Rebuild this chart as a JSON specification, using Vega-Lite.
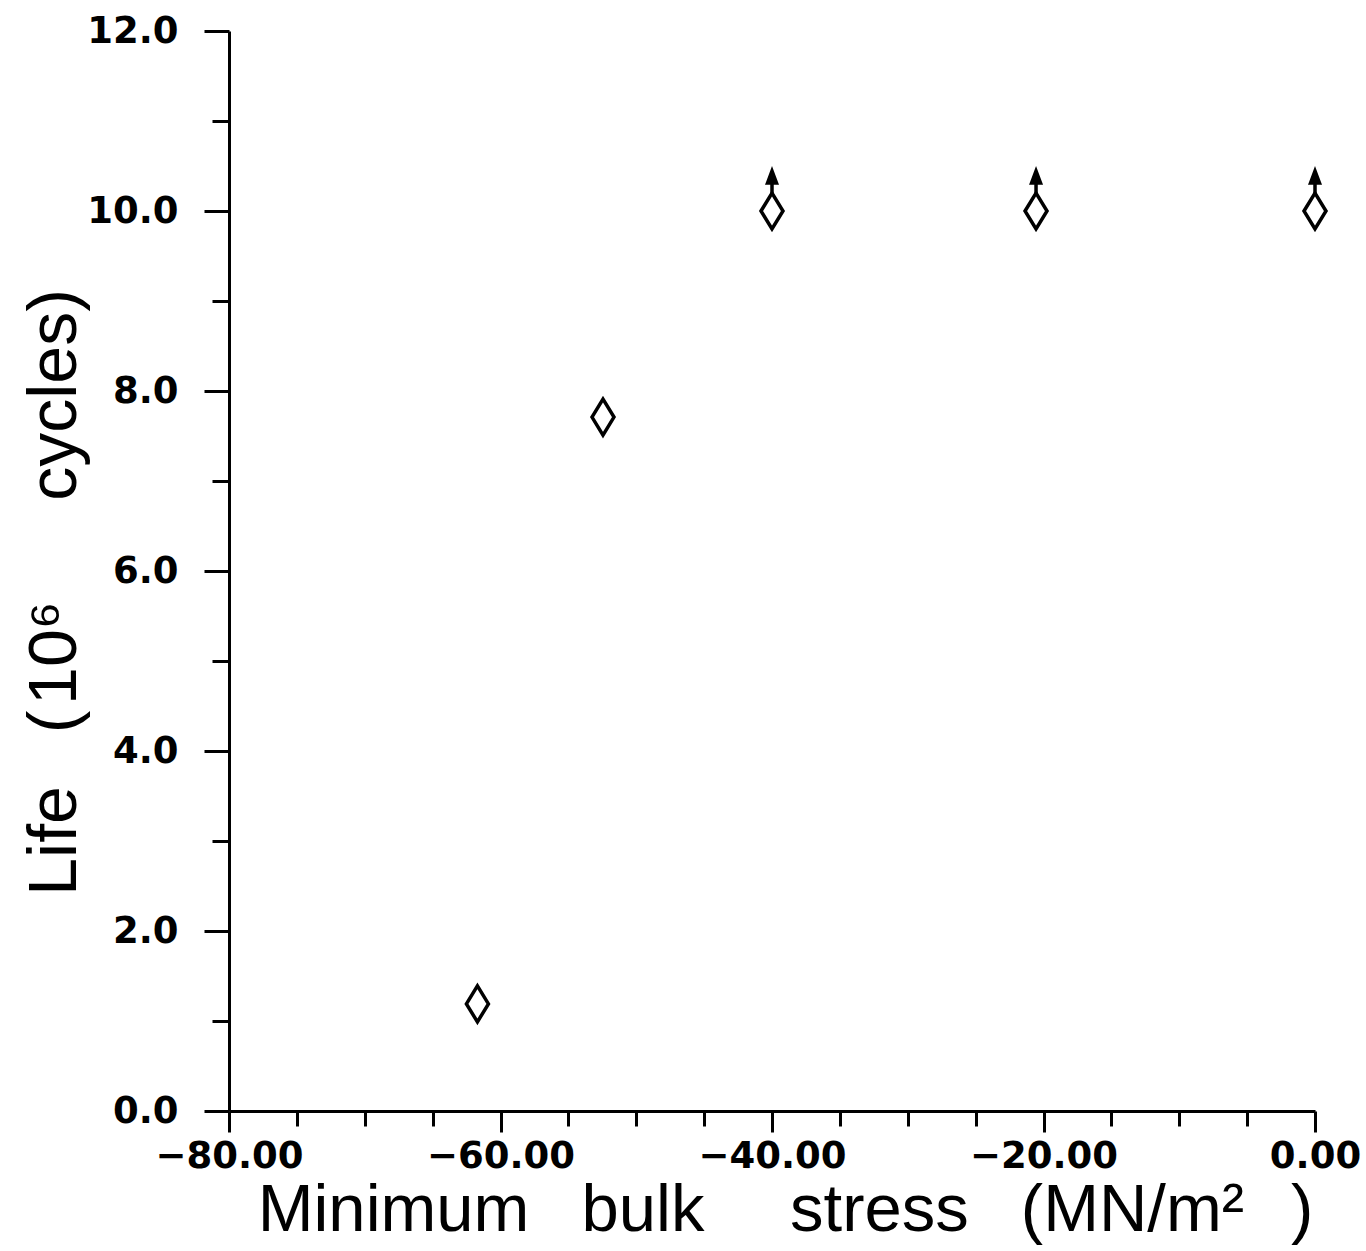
{
  "$schema": "https://vega.github.io/schema/vega-lite/v6.json",
  "width": 1086,
  "height": 1080,
  "autosize": {"type": "none"},
  "padding": {"left": 229, "top": 31, "right": 51, "bottom": 140},
  "background": "white",
  "config": {"view": {"stroke": null}},
  "data": {
    "values": [
      {"stress": -61.7, "life": 1.19, "runout": false},
      {"stress": -52.45, "life": 7.71, "runout": false},
      {"stress": -40.0, "life": 10.0, "runout": true},
      {"stress": -20.55, "life": 10.0, "runout": true},
      {"stress": 0.0, "life": 10.0, "runout": true}
    ]
  },
  "encoding": {
    "x": {
      "field": "stress",
      "type": "quantitative",
      "scale": {"domain": [-80, 0], "nice": false, "zero": false},
      "axis": {
        "values": [-80, -75, -70, -65, -60, -55, -50, -45, -40, -35, -30, -25, -20, -15, -10, -5, 0],
        "format": ".2f",
        "labelExpr": "datum.value % 20 === 0 ? datum.label : ''",
        "tickSize": {"condition": {"test": "datum.value % 20 === 0", "value": 21}, "value": 15},
        "tickWidth": 3,
        "tickColor": "black",
        "domainWidth": 3,
        "domainColor": "black",
        "grid": false,
        "labelFont": "DejaVu Sans",
        "labelFontSize": 37,
        "labelFontWeight": "bold",
        "labelColor": "black",
        "labelPadding": 6,
        "labelFlush": false,
        "labelOverlap": false,
        "title": "Minimum \u2002bulk\u2003 stress \u2002(MN/m\u00b2\u2002\u2009)",
        "titleFont": "Liberation Sans",
        "titleFontSize": 67,
        "titleFontWeight": "normal",
        "titleColor": "black",
        "titleX": 556,
        "titleY": 119,
        "titleBaseline": "alphabetic",
        "titleAlign": "center"
      }
    },
    "y": {
      "field": "life",
      "type": "quantitative",
      "scale": {"domain": [0, 12], "nice": false, "zero": false},
      "axis": {
        "values": [0, 1, 2, 3, 4, 5, 6, 7, 8, 9, 10, 11, 12],
        "format": ".1f",
        "labelExpr": "datum.value % 2 === 0 ? datum.label : ''",
        "tickSize": {"condition": {"test": "datum.value % 2 === 0", "value": 25}, "value": 17},
        "tickWidth": 3,
        "tickColor": "black",
        "domainWidth": 3,
        "domainColor": "black",
        "grid": false,
        "labelFont": "DejaVu Sans",
        "labelFontSize": 37,
        "labelFontWeight": "bold",
        "labelColor": "black",
        "labelPadding": 26,
        "labelFlush": false,
        "labelOverlap": false,
        "title": "Life \u2002(\u200a10\u2076\u2003\u2009 cycles)",
        "titleFont": "Liberation Sans",
        "titleFontSize": 68,
        "titleFontWeight": "normal",
        "titleColor": "black",
        "titleAngle": 270,
        "titleX": -154,
        "titleY": 561,
        "titleBaseline": "alphabetic",
        "titleAlign": "center"
      }
    }
  },
  "layer": [
    {
      "mark": {
        "type": "point",
        "shape": "M-1.1,0L0,-1.8L1.1,0L0,1.8Z",
        "size": 400,
        "filled": false,
        "stroke": "black",
        "strokeWidth": 3.5,
        "opacity": 1
      }
    },
    {
      "transform": [{"filter": "datum.runout"}],
      "mark": {
        "type": "point",
        "shape": "M0,-1.8L0,-3.0M-0.45,-2.8L0,-4.0L0.45,-2.8Z",
        "size": 400,
        "filled": true,
        "fill": "black",
        "stroke": "black",
        "strokeWidth": 3.5,
        "opacity": 1
      }
    }
  ]
}
